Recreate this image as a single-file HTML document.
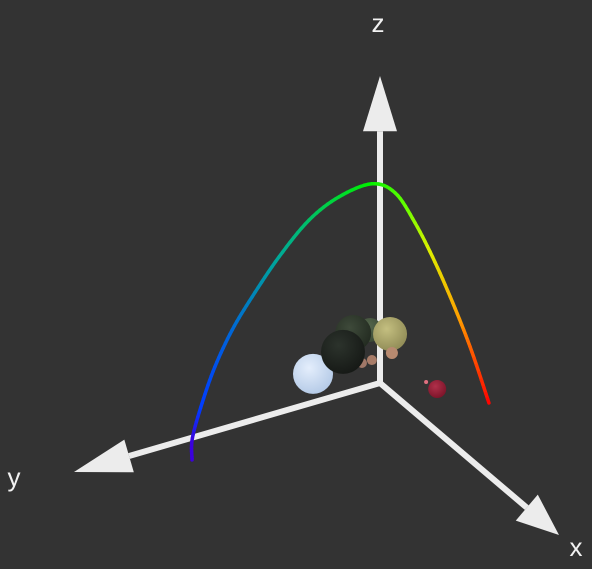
<!DOCTYPE html>
<html><head><meta charset="utf-8"><style>
html,body{margin:0;padding:0;background:#333333;}
svg{display:block;}
text{font-family:"Liberation Sans",sans-serif;fill:#f2f2f2;}
</style></head><body>
<svg id="scene" width="592" height="569" viewBox="0 0 592 569">
<defs>
<radialGradient id="gBlue" cx="0.4" cy="0.35" r="0.7"><stop offset="0" stop-color="#e4eefc"/><stop offset="1" stop-color="#b3c9e6"/></radialGradient>
<radialGradient id="gDark" cx="0.4" cy="0.35" r="0.7"><stop offset="0" stop-color="#2c332c"/><stop offset="1" stop-color="#151815"/></radialGradient>
<radialGradient id="gGreen" cx="0.4" cy="0.35" r="0.7"><stop offset="0" stop-color="#3e4a3a"/><stop offset="1" stop-color="#222a20"/></radialGradient>
<radialGradient id="gGreen2" cx="0.4" cy="0.35" r="0.7"><stop offset="0" stop-color="#56684e"/><stop offset="1" stop-color="#3a4834"/></radialGradient>
<radialGradient id="gOlive" cx="0.4" cy="0.35" r="0.7"><stop offset="0" stop-color="#c4bf80"/><stop offset="1" stop-color="#8f8a55"/></radialGradient>
<radialGradient id="gRed" cx="0.4" cy="0.35" r="0.7"><stop offset="0" stop-color="#b0304a"/><stop offset="1" stop-color="#7a1328"/></radialGradient>
</defs>
<g id="axes"></g>
<g id="bodies"></g>
<g id="curve"></g>
<text x="378" y="32" font-size="26" text-anchor="middle">z</text>
<text x="14" y="486" font-size="26" text-anchor="middle">y</text>
<text x="576" y="556" font-size="26" text-anchor="middle">x</text>
</svg>
<script>
// curve data: ground-path parameter and height
const curveS = [0, 0.001, 0.034, 0.077, 0.135, 0.202, 0.293, 0.394, 0.495, 0.606, 0.684, 0.751, 0.818, 0.886, 0.943, 1];
const curveZ = [0, 0.07, 0.179, 0.289, 0.398, 0.493, 0.607, 0.708, 0.765, 0.787, 0.743, 0.633, 0.493, 0.329, 0.176, 0];
const pathStart = [0.109, 0.678];
const pathEnd = [0.253, -0.208];
// bodies
const bodyX = [-0.140, -0.205, -0.283, -0.274, -0.226, -0.130, -0.124, -0.124, 0.111, 0.061];
const bodyY = [0.137, 0.001, -0.078, -0.128, -0.165, -0.115, -0.046, -0.0135, -0.122, -0.115];
const bodyZ = [0, 0, 0, 0, 0, 0, 0, 0, 0, 0];
const bodyR = [20, 22, 18, 12, 17, 6, 5, 5, 9, 2];
const bodyFill = ['url(#gBlue)', 'url(#gDark)', 'url(#gGreen)', 'url(#gGreen2)', 'url(#gOlive)', '#b88a70', '#a87c68', '#a07868', 'url(#gRed)', '#e07080'];
const bodyOrder = [3, 2, 4, 5, 6, 7, 0, 1, 8, 9];

const O = [380, 383], EX = [179, 152], EY = [-306, 89], EZ = [0, -307];
function proj(x, y, z) { return [O[0] + x*EX[0] + y*EY[0] + z*EZ[0], O[1] + x*EX[1] + y*EY[1] + z*EZ[1]]; }
const NS = 'http://www.w3.org/2000/svg';
function mk(tag, attrs, parent) { const e = document.createElementNS(NS, tag); for (const k in attrs) e.setAttribute(k, attrs[k]); parent.appendChild(e); return e; }

const axes = document.getElementById('axes');
const axisDefs = [['x-axis', [1, 0, 0]], ['y-axis', [0, 1, 0]], ['z-axis', [0, 0, 1]]];
axisDefs.forEach(([name, d]) => {
  const tip = proj(d[0], d[1], d[2]);
  const base = proj(d[0]*0.82, d[1]*0.82, d[2]*0.82);
  const ln = mk('line', {x1: O[0], y1: O[1], x2: base[0], y2: base[1], stroke: '#ececec', 'stroke-width': 6}, axes);
  
  
  const dx = tip[0]-base[0], dy = tip[1]-base[1], L = Math.hypot(dx, dy), nx = -dy/L*17, ny = dx/L*17;
  const head = mk('polygon', {points: `${tip[0]},${tip[1]} ${base[0]+nx},${base[1]+ny} ${base[0]-nx},${base[1]-ny}`, fill: '#ececec'}, axes);
  
  
});

const bodies = document.getElementById('bodies');
bodyOrder.forEach(i => {
  const p = proj(bodyX[i], bodyY[i], bodyZ[i]);
  const c = mk('circle', {cx: p[0], cy: p[1], r: bodyR[i], fill: bodyFill[i]}, bodies);
  
  
});

function colorAt(s) {
  const stops = [[0,[60,0,220]],[0.03,[0,60,255]],[0.3,[0,170,150]],[0.6,[0,240,0]],[0.72,[100,255,0]],[0.8,[220,240,0]],[0.9,[255,160,0]],[1,[255,0,0]]];
  for (let k = 1; k < stops.length; k++) if (s <= stops[k][0]) {
    const a = stops[k-1], b = stops[k], t = (s-a[0])/(b[0]-a[0]);
    return `rgb(${a[1].map((v,j)=>Math.round(v+(b[1][j]-v)*t)).join(',')})`;
  }
  return 'rgb(255,0,0)';
}
const curve = document.getElementById('curve');
const pts = curveS.map((s, i) => proj(pathStart[0] + s*(pathEnd[0]-pathStart[0]), pathStart[1] + s*(pathEnd[1]-pathStart[1]), curveZ[i]));
for (let i = 0; i < pts.length-1; i++) {
  const p0 = pts[Math.max(0,i-1)], p1 = pts[i], p2 = pts[i+1], p3 = pts[Math.min(pts.length-1,i+2)];
  const N = 8;
  for (let k = 0; k < N; k++) {
    const f = (t) => [0,1].map(j => 0.5*((2*p1[j]) + (-p0[j]+p2[j])*t + (2*p0[j]-5*p1[j]+4*p2[j]-p3[j])*t*t + (-p0[j]+3*p1[j]-3*p2[j]+p3[j])*t*t*t));
    const a = f(k/N), b = f((k+1)/N);
    const s = curveS[i] + (curveS[i+1]-curveS[i])*(k+0.5)/N;
    const seg = mk('line', {x1: a[0], y1: a[1], x2: b[0], y2: b[1], stroke: colorAt(s), 'stroke-width': 3.5, 'stroke-linecap': 'round'}, curve);
    
    
  }
}
</script>
</body></html>
